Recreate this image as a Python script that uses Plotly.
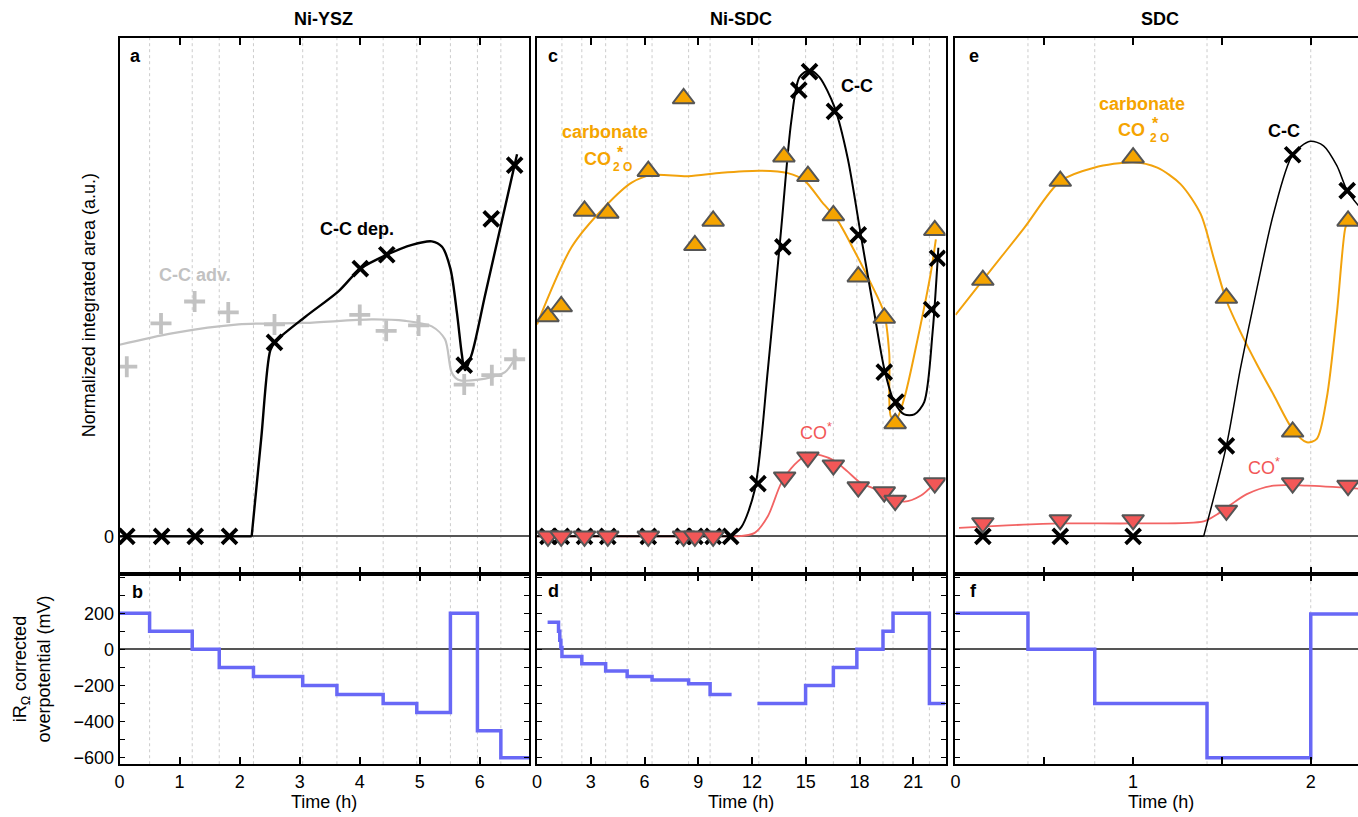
import plotly.graph_objects as go

# ===================== DATA =====================
# ---- Ni-YSZ (panels a, b) ----
ysz_ccdep_t = [0.12, 0.70, 1.26, 1.83, 2.58, 4.01, 4.45, 5.74, 6.19, 6.58]
ysz_ccdep_v = [0, 0, 0, 0, 0.390, 0.538, 0.566, 0.344, 0.638, 0.746]
ysz_ccadv_t = [0.12, 0.69, 1.25, 1.81, 2.58, 4.00, 4.44, 4.98, 5.74, 6.20, 6.58]
ysz_ccadv_v = [0.341, 0.428, 0.472, 0.450, 0.426, 0.445, 0.413, 0.424, 0.305, 0.324, 0.356]
ysz_ccdep_fit_t = [0, 2.20, 2.36, 2.51, 2.60, 3.09, 3.65, 4.01, 4.45, 4.87, 5.20, 5.37,
                   5.51, 5.62, 5.70, 5.75, 5.87, 6.09, 6.58, 6.62]
ysz_ccdep_fit_v = [0, 0, 0.198, 0.374, 0.392, 0.441, 0.493, 0.538, 0.566, 0.586, 0.593, 0.582,
                   0.538, 0.448, 0.366, 0.334, 0.368, 0.486, 0.747, 0.768]
ysz_ccadv_fit_t = [0, 0.87, 1.98, 3.09, 4.20, 4.76, 5.20, 5.42, 5.53, 5.64, 5.98, 6.42, 6.58, 6.62]
ysz_ccadv_fit_v = [0.385, 0.408, 0.426, 0.429, 0.436, 0.433, 0.422, 0.396, 0.330, 0.315, 0.315,
                   0.330, 0.356, 0.362]
ysz_eta_t = [0, 0.50, 1.21, 1.66, 2.23, 3.05, 3.62, 4.39, 4.95, 5.51, 5.96, 6.35, 6.82]
ysz_eta_v = [200, 100, 0, -100, -150, -200, -250, -300, -350, 200, -450, -600, -600]

# ---- Ni-SDC (panels c, d) ----
nisdc_carb_t = [0.61, 1.35, 2.65, 3.95, 6.21, 8.18, 8.81, 9.83, 13.78, 15.12, 16.54, 17.93,
                19.38, 19.99, 22.20]
nisdc_carb_v = [0.442, 0.462, 0.654, 0.650, 0.734, 0.880, 0.585, 0.634, 0.763, 0.724, 0.645,
                0.522, 0.439, 0.227, 0.615]
nisdc_carb_fit_t = [0, 1.94, 3.80, 5.28, 6.39, 8.44, 10.30, 12.52, 14.00, 14.93, 15.86, 16.79,
                    17.71, 18.64, 19.38, 19.66, 19.75, 20.03, 20.50, 21.24, 21.98, 22.26]
nisdc_carb_fit_v = [0.426, 0.582, 0.663, 0.711, 0.726, 0.724, 0.731, 0.735, 0.730, 0.715, 0.674,
                    0.634, 0.574, 0.508, 0.448, 0.367, 0.241, 0.234, 0.278, 0.396, 0.530, 0.597]
nisdc_cc_t = [0.61, 1.35, 2.65, 3.95, 6.21, 8.18, 8.81, 9.83, 10.81, 12.33, 13.72, 14.61, 15.21,
              16.60, 17.93, 19.38, 20.03, 22.02, 22.35]
nisdc_cc_v = [0, 0, 0, 0, 0, 0, 0, 0, 0, 0.106, 0.582, 0.897, 0.934, 0.854, 0.606, 0.330, 0.270,
              0.456, 0.559]
nisdc_cc_fit_t = [0, 10.81, 11.41, 12.15, 12.89, 13.63, 14.19, 14.65, 15.21, 15.76, 16.60, 17.34,
                  18.08, 18.83, 19.38, 19.94, 20.50, 21.06, 21.61, 22.08, 22.40]
nisdc_cc_fit_v = [0, 0, 0.019, 0.093, 0.337, 0.619, 0.834, 0.923, 0.937, 0.923, 0.863, 0.760,
                  0.604, 0.448, 0.337, 0.270, 0.245, 0.245, 0.270, 0.411, 0.580]
nisdc_co_t = [0.61, 1.35, 2.65, 3.95, 6.21, 8.18, 8.81, 9.83, 13.82, 15.12, 16.54, 17.93, 19.38,
              19.99, 22.20]
nisdc_co_v = [0, 0, 0, 0, 0, 0, 0, 0, 0.119, 0.159, 0.143, 0.099, 0.089, 0.072, 0.107]
nisdc_co_fit_t = [0, 11.20, 12.15, 12.89, 13.63, 14.37, 15.12, 15.86, 16.60, 17.34, 18.08, 18.83,
                  19.57, 20.50, 21.43, 22.20]
nisdc_co_fit_v = [0, 0, 0.007, 0.041, 0.107, 0.144, 0.165, 0.163, 0.152, 0.130, 0.107, 0.096,
                  0.082, 0.070, 0.082, 0.107]
nisdc_eta1_t = [0.59, 1.20, 1.27, 1.33, 1.39, 2.50, 3.83, 5.03, 6.42, 8.46, 9.66, 10.86]
nisdc_eta1_v = [150, 100, 50, 10, -40, -80, -120, -150, -170, -190, -250, -250]
nisdc_eta2_t = [12.30, 14.99, 16.54, 17.85, 19.31, 19.87, 21.90, 22.80]
nisdc_eta2_v = [-300, -200, -100, 0, 100, 200, -300, -300]
nisdc_grid_t = [1.39, 2.50, 3.83, 5.03, 6.42, 8.46, 9.66, 12.38, 14.99, 16.54, 17.85, 19.31,
                19.87, 21.90]

# ---- SDC (panels e, f) ----
sdc_carb_t = [0.154, 0.59, 1.00, 1.525, 1.898, 2.21]
sdc_carb_v = [0.515, 0.714, 0.761, 0.479, 0.210, 0.634]
sdc_carb_fit_t = [0, 0.154, 0.385, 0.59, 0.78, 1.00, 1.136, 1.267, 1.38, 1.454, 1.525, 1.604,
                  1.698, 1.79, 1.898, 1.978, 2.034, 2.09, 2.147, 2.194, 2.21]
sdc_carb_fit_v = [0.445, 0.515, 0.619, 0.714, 0.741, 0.752, 0.741, 0.708, 0.648, 0.559, 0.474,
                  0.411, 0.345, 0.285, 0.215, 0.189, 0.196, 0.278, 0.448, 0.619, 0.634]
sdc_cc_t = [0.154, 0.59, 1.00, 1.525, 1.898, 2.205]
sdc_cc_v = [0, 0, 0, 0.182, 0.767, 0.695]
sdc_cc_fit_t = [0, 1.397, 1.525, 1.604, 1.698, 1.79, 1.898, 1.997, 2.072, 2.147, 2.205, 2.27]
sdc_cc_fit_v = [0, 0, 0.182, 0.337, 0.500, 0.648, 0.767, 0.794, 0.785, 0.745, 0.695, 0.664]
sdc_co_t = [0.154, 0.59, 1.00, 1.525, 1.898, 2.21]
sdc_co_v = [0.027, 0.033, 0.033, 0.052, 0.107, 0.102]
sdc_co_fit_t = [0.02, 0.29, 0.59, 1.00, 1.397, 1.472, 1.547, 1.64, 1.79, 1.978, 2.27]
sdc_co_fit_v = [0.017, 0.022, 0.026, 0.026, 0.030, 0.044, 0.063, 0.085, 0.102, 0.102, 0.096]
sdc_eta_t = [0, 0.408, 0.784, 1.416, 2.00, 2.27]
sdc_eta_v = [200, 0, -300, -600, 195, 195]

panel_titles = ["Ni-YSZ", "Ni-SDC", "SDC"]
panel_letters = ["a", "b", "c", "d", "e", "f"]
eta_ticks = [-600, -400, -200, 0, 200]

# ===================== STYLE / LAYOUT =====================
W, H = 1358, 817
FONT = "Liberation Sans, Arial, Helvetica, sans-serif"
ORANGE = "#F5A400"
ORANGE_LINE = "#F2A20C"
RED = "#F25757"
RED_LINE = "#F26464"
GRAY = "#C2C2C2"
BLUE = "#6868F6"
EDGE = "#555555"


def fx(p):
    return p / W


def fy(p):
    return 1 - p / H


col_px = [(115, 526), (534, 944), (954, 1358)]
top_px = (38, 577)
bot_px = (577, 768)
xranges = [[0, 6.82], [0, 22.8], [0, 2.266]]
top_range = [-0.076, 1.002]
bot_range = [-636, 416]
xtick_vals = [list(range(0, 7)), list(range(0, 23, 3)), [0, 1, 2]]
xminor = [None, None, 0.5]

fig = go.Figure()


def line(xa, ya, t, v, color, width, shape="spline", smoothing=0.8):
    kw = dict(color=color, width=width, shape=shape)
    if shape == "spline":
        kw["smoothing"] = smoothing
    fig.add_trace(go.Scatter(x=t, y=v, mode="lines", xaxis=xa, yaxis=ya, line=kw,
                             hoverinfo="skip", showlegend=False))


def fit(xa, ya, t, v, color, width):
    # flat baseline part drawn straight, the rest smoothed
    k = 0
    while k + 1 < len(v) and v[k + 1] == 0:
        k += 1
    if k > 0:
        line(xa, ya, t[:k + 1], v[:k + 1], color, width, shape="linear")
    line(xa, ya, t[k:], v[k:], color, width)


def marks(xa, ya, t, v, symbol, size, fill, lcolor, lwidth):
    fig.add_trace(go.Scatter(x=t, y=v, mode="markers", xaxis=xa, yaxis=ya,
                             marker=dict(symbol=symbol, size=size, color=fill,
                                         line=dict(color=lcolor, width=lwidth)),
                             showlegend=False))


XS, TS = 15, 19  # marker sizes

# panel a
fit("x", "y", ysz_ccadv_fit_t, ysz_ccadv_fit_v, GRAY, 2.2)
fit("x", "y", ysz_ccdep_fit_t, ysz_ccdep_fit_v, "black", 2.4)
marks("x", "y", ysz_ccadv_t, ysz_ccadv_v, "cross-thin", XS, GRAY, GRAY, 3.8)
marks("x", "y", ysz_ccdep_t, ysz_ccdep_v, "x-thin", XS, "black", "black", 3.8)
# panel b
line("x2", "y2", ysz_eta_t, ysz_eta_v, BLUE, 3.5, shape="hv")

# panel c
fit("x3", "y3", nisdc_co_fit_t, nisdc_co_fit_v, RED_LINE, 1.8)
fit("x3", "y3", nisdc_carb_fit_t, nisdc_carb_fit_v, ORANGE_LINE, 2.0)
fit("x3", "y3", nisdc_cc_fit_t, nisdc_cc_fit_v, "black", 2.0)
marks("x3", "y3", nisdc_cc_t, nisdc_cc_v, "x-thin", XS, "black", "black", 3.8)
marks("x3", "y3", nisdc_carb_t, nisdc_carb_v, "triangle-up", TS, ORANGE, EDGE, 2)
marks("x3", "y3", nisdc_co_t, nisdc_co_v, "triangle-down", TS, RED, EDGE, 2)
# panel d
line("x4", "y4", nisdc_eta1_t, nisdc_eta1_v, BLUE, 3.5, shape="hv")
line("x4", "y4", nisdc_eta2_t, nisdc_eta2_v, BLUE, 3.5, shape="hv")

# panel e
fit("x5", "y5", sdc_co_fit_t, sdc_co_fit_v, RED_LINE, 1.8)
fit("x5", "y5", sdc_carb_fit_t, sdc_carb_fit_v, ORANGE_LINE, 2.0)
fit("x5", "y5", sdc_cc_fit_t, sdc_cc_fit_v, "black", 1.5)
marks("x5", "y5", sdc_carb_t, sdc_carb_v, "triangle-up", TS, ORANGE, EDGE, 2)
marks("x5", "y5", sdc_co_t, sdc_co_v, "triangle-down", TS, RED, EDGE, 2)
marks("x5", "y5", sdc_cc_t, sdc_cc_v, "x-thin", XS, "black", "black", 3.8)
# panel f
line("x6", "y6", sdc_eta_t, sdc_eta_v, BLUE, 3.5, shape="hv")

# axes
layout = dict(width=W, height=H, margin=dict(l=0, r=0, t=0, b=0),
              paper_bgcolor="white", plot_bgcolor="white",
              font=dict(family=FONT, size=18, color="black"), showlegend=False)
for i in range(3):
    xd = [fx(col_px[i][0]), fx(col_px[i][1])]
    n_top, n_bot = 2 * i + 1, 2 * i + 2
    for n, ydom, bottom in ((n_top, top_px, False), (n_bot, bot_px, True)):
        xs = "xaxis" if n == 1 else f"xaxis{n}"
        ys = "yaxis" if n == 1 else f"yaxis{n}"
        xa = dict(domain=xd, range=xranges[i], anchor="y" if n == 1 else f"y{n}",
                  tickmode="array", tickvals=xtick_vals[i],
                  ticks="inside", ticklen=7, tickwidth=1.5, tickcolor="black",
                  showline=True, linewidth=2, linecolor="black", mirror="allticks",
                  showgrid=False, zeroline=False, showticklabels=bottom,
                  tickfont=dict(size=18, color="black"))
        if xminor[i]:
            xa["minor"] = dict(tickmode="linear", tick0=0, dtick=xminor[i], ticks="inside",
                               ticklen=7, tickwidth=1.5, tickcolor="black")
        layout[xs] = xa
        yd = [fy(ydom[1]), fy(ydom[0])]
        common = dict(domain=yd, anchor="x" if n == 1 else f"x{n}", showline=True, linewidth=2,
                      linecolor="black", showgrid=False, zeroline=True, zerolinecolor="#555555",
                      zerolinewidth=1.6, tickfont=dict(size=18, color="black"))
        if not bottom:
            common.update(range=top_range, tickmode="array", tickvals=[0],
                          ticks="", showticklabels=(i == 0), mirror=(i < 2))
        else:
            common.update(range=bot_range, tickmode="array", tickvals=eta_ticks,
                          ticks="inside", ticklen=5, tickwidth=1.3, tickcolor="black",
                          minor=dict(tickmode="linear", tick0=0, dtick=100, ticks="inside",
                                     ticklen=5, tickwidth=1.3, tickcolor="black"),
                          showticklabels=(i == 0), mirror="allticks" if i < 2 else False)
        layout[ys] = common

# vertical dashed guide lines (at set-point changes)
grid_sets = [ysz_eta_t[1:-1], nisdc_grid_t, sdc_eta_t[1:-1]]
shapes = []
for i, ts in enumerate(grid_sets):
    for n in (2 * i + 1, 2 * i + 2):
        xr = "x" if n == 1 else f"x{n}"
        yr = "y domain" if n == 1 else f"y{n} domain"
        for t in ts:
            shapes.append(dict(type="line", xref=xr, yref=yr, x0=t, x1=t, y0=0, y1=1,
                               line=dict(color="#CCCCCC", width=1, dash="3px,3px"),
                               layer="below"))
layout["shapes"] = shapes

ann = []


def txt(x, y, s, size=18, color="black", bold=False, xref="paper", yref="paper", **kw):
    ann.append(dict(x=x, y=y, xref=xref, yref=yref, text=f"<b>{s}</b>" if bold else s,
                    showarrow=False, font=dict(size=size, color=color, family=FONT),
                    xanchor=kw.pop("xanchor", "center"), yanchor=kw.pop("yanchor", "middle"),
                    **kw))


# titles
for cx, t in zip([320, 739, 1159], panel_titles):
    txt(fx(cx), fy(19), t, bold=True)
# panel letters
for (lx, ly), l in zip([(131, 56), (133, 595), (550, 56), (551, 594), (973, 56), (972, 594)],
                       panel_letters):
    txt(fx(lx), fy(ly), l, bold=True)
# x titles
for cx in [320, 739, 1160]:
    txt(fx(cx), fy(806), "Time (h)")
# y titles
txt(fx(85), fy(307), "Normalized integrated area (a.u.)", textangle=-90)
txt(fx(27), fy(672), "iR<sub>Ω</sub> corrected<br>overpotential (mV)", textangle=-90)

# in-plot labels
txt(3.96, 0.618, "C-C dep.", bold=True, xref="x", yref="y")
txt(1.25, 0.526, "C-C adv.", bold=True, color=GRAY, xref="x", yref="y")

txt(3.82, 0.813, "carbonate", bold=True, color=ORANGE, xref="x3", yref="y3")
txt(3.40, 0.759, "CO", bold=True, color=ORANGE, xref="x3", yref="y3")
txt(4.64, 0.772, "*", size=16, bold=True, color=ORANGE, xref="x3", yref="y3")
txt(4.78, 0.742, "2 O", size=12, bold=True, color=ORANGE, xref="x3", yref="y3")
txt(17.84, 0.906, "C-C", bold=True, xref="x3", yref="y3")
txt(15.58, 0.211, "CO<sup>*</sup>", color=RED, xref="x3", yref="y3")

txt(1.05, 0.869, "carbonate", bold=True, color=ORANGE, xref="x5", yref="y5")
txt(0.99, 0.817, "CO", bold=True, color=ORANGE, xref="x5", yref="y5")
txt(1.128, 0.830, "*", size=16, bold=True, color=ORANGE, xref="x5", yref="y5")
txt(1.148, 0.800, "2 O", size=12, bold=True, color=ORANGE, xref="x5", yref="y5")
txt(1.848, 0.815, "C-C", bold=True, xref="x5", yref="y5")
txt(1.739, 0.141, "CO<sup>*</sup>", color=RED, xref="x5", yref="y5")

layout["annotations"] = ann
fig.update_layout(**layout)
fig.write_html("out.html", config={"displayModeBar": False},
               post_script="document.body.style.margin='0';document.body.style.overflow='hidden';")
